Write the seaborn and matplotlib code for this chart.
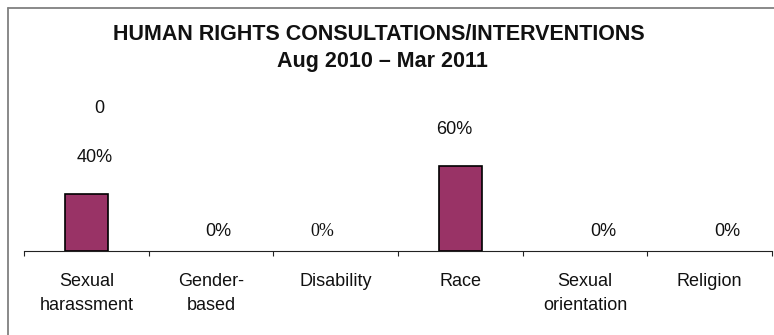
import matplotlib
matplotlib.use("Agg")
import matplotlib.pyplot as plt
from matplotlib.lines import Line2D
import numpy as np
import pandas as pd
import seaborn as sns

categories = ["Sexual\nharassment", "Gender-\nbased", "Disability", "Race", "Sexual\norientation", "Religion"]
values = [40, 0, 0, 60, 0, 0]
value_labels = ["40%", "0%", "0%", "60%", "0%", "0%"]
extra_label = "0"
title_lines = ["HUMAN RIGHTS CONSULTATIONS/INTERVENTIONS", "Aug 2010 \u2013 Mar 2011"]

sns.set_style("white")
plt.rcParams["font.family"] = ["Liberation Sans", "DejaVu Sans"]

W, H = 774, 335
fig = plt.figure(figsize=(W / 100, H / 100), dpi=100)
fig.patch.set_facecolor("white")

ax_left, ax_right, ax_base, ax_top = 24, 772, 251, 109
ax = fig.add_axes([ax_left / W, 1 - ax_base / H, (ax_right - ax_left) / W, (ax_base - ax_top) / H])
ax.set_facecolor("white")

df = pd.DataFrame({"cat": categories, "val": values})
sns.barplot(data=df, x="cat", y="val", color="#993366", saturation=1,
            edgecolor="black", linewidth=1.2, width=0.34, ax=ax)
for p in ax.patches:
    if p.get_height() == 0:
        p.set_visible(False)

ax.set_xlim(-0.5, len(categories) - 0.5)
ax.set_ylim(0, 100)
for s in ["left", "right", "top"]:
    ax.spines[s].set_visible(False)
ax.spines["bottom"].set_color("#222222")
ax.spines["bottom"].set_linewidth(0.8)
ax.set_yticks([])
ax.set_xlabel("")
ax.set_ylabel("")

# Major ticks between categories, labels at centers
ax.set_xticks(np.arange(-0.5, len(categories), 1.0))
ax.set_xticklabels([])
ax.tick_params(axis="x", which="major", direction="out", length=3.6, width=0.8, color="#222222", bottom=True)
ax.set_xticks(np.arange(len(categories)), minor=True)
ax.set_xticklabels(categories, minor=True, fontsize=13, color="#111111", linespacing=1.55)
ax.tick_params(axis="x", which="minor", length=0, pad=16)

px = 0.72  # points per pixel
label_dx = [8, 7.5, -13.5, -6.5, 18, 17.5]
label_dy = [37, 19, 19, 36, 19, 19]
for i, (v, lab) in enumerate(zip(values, value_labels)):
    fam = ["Liberation Serif", "DejaVu Serif"] if i == 2 else ["Liberation Sans", "DejaVu Sans"]
    ax.annotate(lab, xy=(i, v), xytext=(label_dx[i] * px, label_dy[i] * px),
                textcoords="offset points", ha="center", va="center",
                fontsize=13, family=fam, color="#111111", annotation_clip=False)
ax.annotate(extra_label, xy=(0, values[0]), xytext=(13 * px, 86 * px),
            textcoords="offset points", ha="center", va="center",
            fontsize=13, color="#111111", annotation_clip=False)

fig.text(379 / W, 1 - 34 / H, title_lines[0], ha="center", va="center",
         fontsize=15.5, fontweight="bold", color="#111111")
fig.text(382 / W, 1 - 62 / H, title_lines[1], ha="center", va="center",
         fontsize=15.5, fontweight="bold", color="#111111")

# outer chart frame (left and top edges visible)
fx, fy = 7.5, 7.5
fig.add_artist(Line2D([fx / W, fx / W], [0, 1 - fy / H], transform=fig.transFigure,
                      color="#808080", linewidth=1.3))
fig.add_artist(Line2D([fx / W, 1], [1 - fy / H, 1 - fy / H], transform=fig.transFigure,
                      color="#808080", linewidth=1.3))

fig.savefig("out.png", dpi=100)
